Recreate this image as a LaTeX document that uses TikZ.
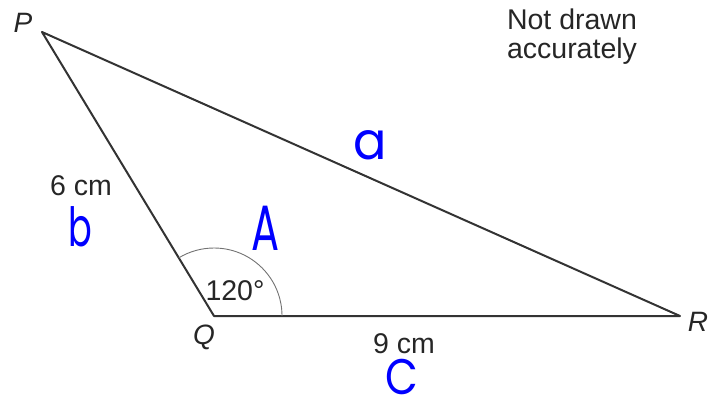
\documentclass[tikz,border=0pt]{standalone}
\usepackage{fontspec}
\setmainfont{Liberation Sans}
\newfontfamily\handfont[FakeStretch=0.65]{Poppins}
\newfontfamily\handwide[FakeStretch=0.95]{Poppins}
\newfontfamily\handmid[FakeStretch=0.85]{Poppins}
\begin{document}
\begin{tikzpicture}[x=1pt,y=-1pt,
  lbl/.style={font=\fontsize{28.5}{31}\selectfont, text=black!85, inner sep=0pt},
  vlbl/.style={font=\fontsize{28}{31}\selectfont\itshape, text=black!85, inner sep=0pt},
  hand/.style={text=blue, inner sep=0pt},
  side/.style={line width=2pt, draw=black!80, line cap=round, line join=round}]
\useasboundingbox (0,0) rectangle (708,405);
\coordinate (P) at (42,32);
\coordinate (Q) at (214,316);
\coordinate (R) at (680,316);
\draw[side] (P) -- (Q) -- (R) -- cycle;
\draw[black!55, line width=0.9pt] ([xshift=68pt]Q) arc[start angle=0, end angle=-121.2, radius=68];
\node[vlbl] (lP) at (23,23) {P};
\node[vlbl] (lQ) at (204,337) {Q};
\node[vlbl] (lR) at (698,322) {R};
\node[lbl] (l6) at (81,186) {6 cm};
\node[lbl] (l9) at (404,344) {9 cm};
\node[lbl] (l120) at (235,291) {120°};
\node[lbl] (n1) at (572,19) {Not drawn};
\node[lbl] (n2) at (572,51) {accurately};
\node[hand, font=\handwide\fontsize{52}{54}\selectfont] (ha) at (370,145) {a};
\node[hand, font=\handfont\fontsize{54}{56}\selectfont] (hb) at (80,227) {b};
\node[hand, font=\handfont\fontsize{64}{66}\selectfont] (hA) at (266,228) {A};
\node[hand, font=\handmid\fontsize{50}{52}\selectfont] (hC) at (402,377) {C};
\end{tikzpicture}
\end{document}
